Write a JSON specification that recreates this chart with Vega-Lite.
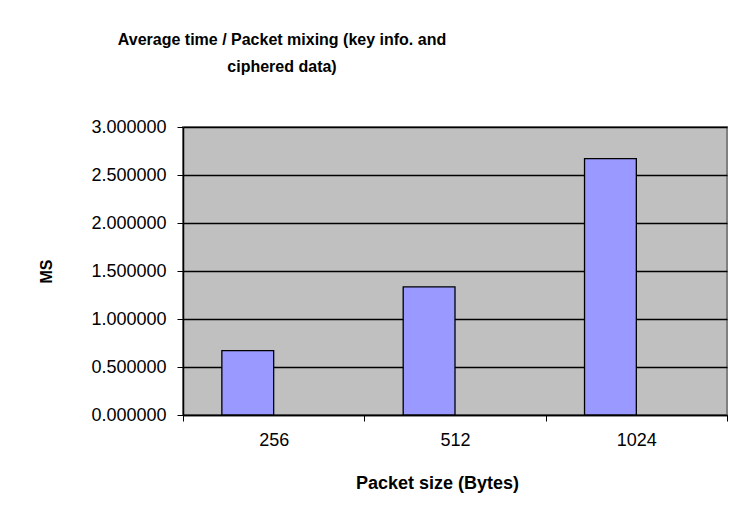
{
  "$schema": "https://vega.github.io/schema/vega-lite/v6.json",
  "autosize": "none",
  "width": 544,
  "height": 288,
  "padding": {"left": 183, "top": 127, "right": 6, "bottom": 98},
  "background": "#ffffff",
  "title": {
    "text": ["Average time / Packet mixing (key info. and", "ciphered data)"],
    "font": "Liberation Sans",
    "fontSize": 16,
    "fontWeight": "bold",
    "color": "#000000",
    "lineHeight": 27,
    "anchor": "middle",
    "frame": "group",
    "dx": -173,
    "offset": 43
  },
  "data": {
    "values": [
      {"size": "256", "series": "Series 1", "ms": 0.67},
      {"size": "512", "series": "Series 1", "ms": 1.335},
      {"size": "1024", "series": "Series 1", "ms": 2.67}
    ]
  },
  "mark": {"type": "bar", "fill": "#9999FF", "stroke": "#000000", "strokeWidth": 1.3},
  "encoding": {
    "x": {
      "field": "size",
      "type": "nominal",
      "sort": ["256", "512", "1024"],
      "scale": {"paddingInner": 0, "paddingOuter": 0},
      "axis": {
        "title": "Packet size (Bytes)",
        "labelAngle": 0,
        "tickBand": "extent",
        "tickSize": 6,
        "tickColor": "#000000",
        "domainColor": "#000000",
        "domainWidth": 1.5,
        "labelFont": "Liberation Sans",
        "labelFontSize": 18,
        "labelColor": "#000000",
        "labelPadding": 10,
        "titleFont": "Liberation Sans",
        "titleFontSize": 18,
        "titleFontWeight": "bold",
        "titleColor": "#000000",
        "titleBaseline": "alphabetic",
        "titleX": 254,
        "titleY": 73,
        "grid": false
      }
    },
    "xOffset": {
      "field": "series",
      "type": "nominal",
      "scale": {"domain": ["Series 1", "Series 2"], "paddingInner": 0, "paddingOuter": 0.75}
    },
    "y": {
      "field": "ms",
      "type": "quantitative",
      "scale": {"domain": [0, 3], "nice": false},
      "axis": {
        "title": "MS",
        "values": [0, 0.5, 1, 1.5, 2, 2.5, 3],
        "format": ".6f",
        "tickSize": 6,
        "tickColor": "#000000",
        "domainColor": "#000000",
        "domainWidth": 1.5,
        "grid": true,
        "gridColor": "#000000",
        "gridWidth": 1.3,
        "gridOpacity": 1,
        "labelFont": "Liberation Sans",
        "labelFontSize": 18,
        "labelColor": "#000000",
        "labelPadding": 11,
        "titleFont": "Liberation Sans",
        "titleFontSize": 16,
        "titleFontWeight": "bold",
        "titleColor": "#000000",
        "titleAngle": 270,
        "titleAlign": "center",
        "titleBaseline": "middle",
        "titleX": -137,
        "titleY": 144
      }
    }
  },
  "config": {
    "view": {"fill": "#C0C0C0", "stroke": "#808080", "strokeWidth": 2}
  }
}
